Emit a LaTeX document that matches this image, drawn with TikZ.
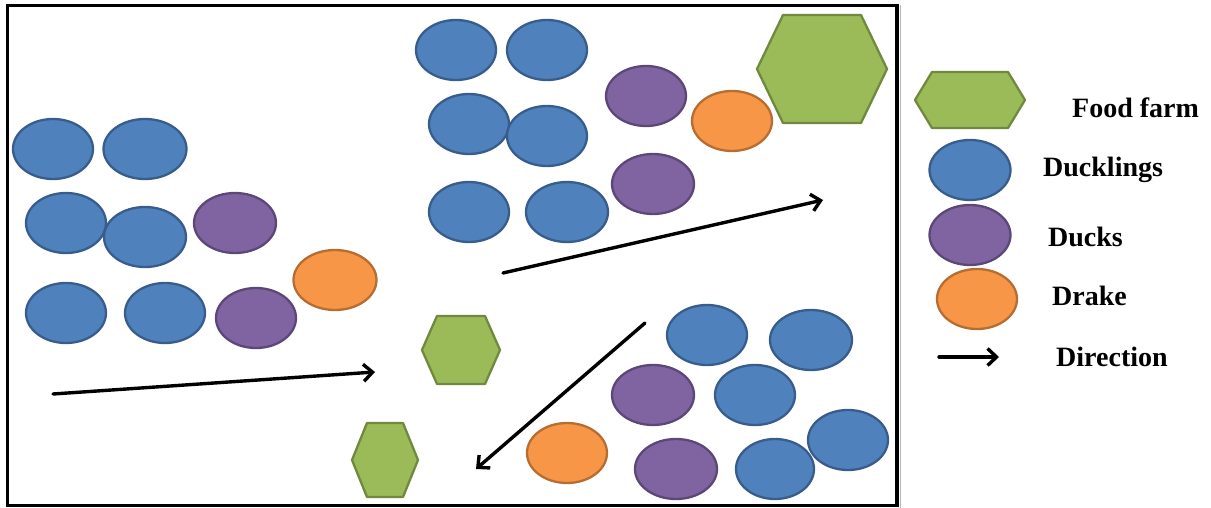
\documentclass[tikz,border=0pt]{standalone}
\usepackage{fontspec}
\setmainfont{Liberation Serif}
\usetikzlibrary{shapes.geometric,arrows.meta}
\definecolor{dblue}{HTML}{4F81BD}
\definecolor{dblueb}{HTML}{385D8A}
\definecolor{dpurp}{HTML}{8064A2}
\definecolor{dpurpb}{HTML}{5C4776}
\definecolor{dorng}{HTML}{F79646}
\definecolor{dorngb}{HTML}{B66D31}
\definecolor{dgreen}{HTML}{9BBB59}
\definecolor{dgreenb}{HTML}{71893F}
\newcommand{\hexshape}[5]{\draw[farm] ({#1-#3},#2) -- ({#1-#4},{#2-#5}) -- ({#1+#4},{#2-#5}) -- ({#1+#3},#2) -- ({#1+#4},{#2+#5}) -- ({#1-#4},{#2+#5}) -- cycle;}
\begin{document}
\begin{tikzpicture}[x=1pt,y=-1pt,
  bird/.style={ellipse, draw, line width=2.3pt, inner sep=0pt, minimum width=80pt, minimum height=60pt},
  duckling/.style={bird, fill=dblue, draw=dblueb},
  duck/.style={bird, fill=dpurp, draw=dpurpb},
  drake/.style={bird, fill=dorng, draw=dorngb},
  farm/.style={fill=dgreen, draw=dgreenb, line width=2.3pt, line join=round},
  dirarrow/.style={line width=3.4pt, line cap=round, -{Straight Barb[length=9pt,width=17pt,line width=3.4pt]}},
  legtext/.style={anchor=base west, inner sep=0pt, font=\fontsize{28}{32}\selectfont\bfseries}]
\useasboundingbox (0,0) rectangle (1211,508);
% frame
\draw[line width=3.2pt] (7.5,5.5) rectangle (897,505.5);
\draw[gray!55, line width=1.2pt] (900.5,5) -- (900.5,508);
% left group
\node[duckling] (l1) at (53,149) {};
\node[duckling, minimum width=83pt] (l2) at (145,149) {};
\node[duckling] (l3) at (66,223) {};
\node[duckling, minimum width=82pt] (l4) at (145,237) {};
\node[duck, minimum width=82pt] (l5) at (235,223) {};
\node[drake, minimum width=83pt] (l6) at (335,280) {};
\node[duckling] (l7) at (66,313) {};
\node[duckling] (l8) at (165,313) {};
\node[duck] (l9) at (256,318) {};
% top group
\node[duckling] (t1) at (456,50) {};
\node[duckling] (t2) at (547,50) {};
\node[duckling] (t3) at (469,124) {};
\node[duckling] (t4) at (547,136) {};
\node[duck] (t5) at (646,96) {};
\node[drake] (t6) at (732,121) {};
\node[duckling] (t7) at (469,212) {};
\node[duckling, minimum width=82pt] (t8) at (567,212) {};
\node[duck, minimum width=82pt] (t9) at (653,184) {};
% bottom-right group
\node[duckling] (r1) at (707,335) {};
\node[duckling, minimum width=82pt] (r2) at (811,340) {};
\node[duck, minimum width=82pt] (r3) at (653,395) {};
\node[duckling] (r4) at (755,395) {};
\node[duckling] (r5) at (848,440) {};
\node[drake] (r6) at (567,453) {};
\node[duck, minimum width=82pt] (r7) at (676,469) {};
\node[duckling, minimum width=78pt] (r8) at (775,469) {};
% food farms
\hexshape{822}{69}{65}{39}{54}
\hexshape{461}{350}{39}{24}{34}
\hexshape{385}{460}{33}{18}{37}
% direction arrows
\coordinate (a1s) at (53,394);
\coordinate (a1e) at (375,372);
\coordinate (a2s) at (503,273);
\coordinate (a2e) at (823,200);
\coordinate (a3s) at (645,323);
\coordinate (a3e) at (476,469);
\draw[dirarrow] (a1s) -- (a1e);
\draw[dirarrow] (a2s) -- (a2e);
\draw[dirarrow] (a3s) -- (a3e);
% legend
\hexshape{970}{100}{55}{38}{28}
\node[duckling, minimum width=81pt] (kduckling) at (970,170) {};
\node[duck, minimum width=81pt] (kduck) at (970,235) {};
\node[drake] (kdrake) at (977,299) {};
\coordinate (kas) at (939,357);
\coordinate (kae) at (999,357);
\draw[dirarrow] (kas) -- (kae);
\node[legtext] (tfarm) at (1072,118) {Food farm};
\node[legtext] (tduckling) at (1043,177) {Ducklings};
\node[legtext] (tduck) at (1048,247) {Ducks};
\node[legtext] (tdrake) at (1052,305) {Drake};
\node[legtext] (tdir) at (1056,366) {Direction};
\end{tikzpicture}
\end{document}
